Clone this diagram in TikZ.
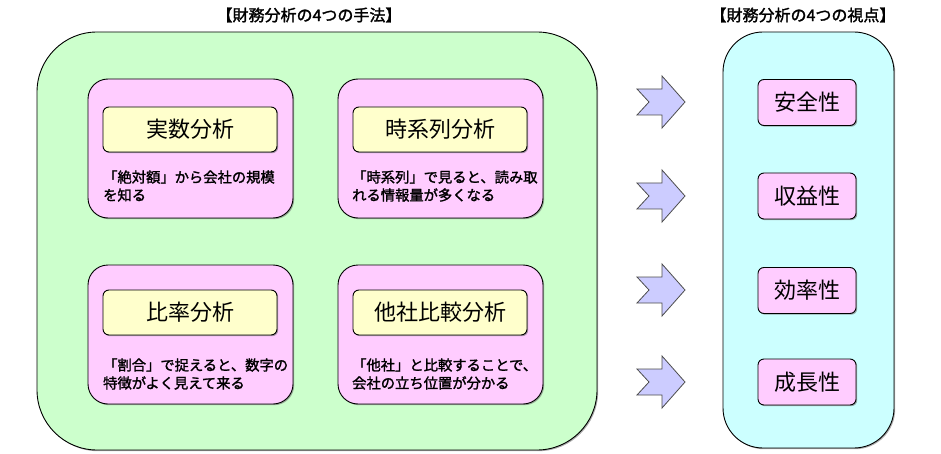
\documentclass[tikz,border=0pt]{standalone}
\usepackage{fontspec}
\setmainfont{Noto Sans CJK JP}
\newfontfamily\boldish[FakeBold=1.6]{Noto Sans CJK JP}
\usetikzlibrary{shadows}
\definecolor{panelgreen}{HTML}{CCFFCC}
\definecolor{panelcyan}{HTML}{CCFFFF}
\definecolor{cardpink}{HTML}{FFCCFF}
\definecolor{labelyellow}{HTML}{FFFFCC}
\definecolor{arrowblue}{HTML}{CCCCFF}
\tikzset{
  shade/.style={drop shadow={shadow xshift=1.2pt, shadow yshift=-1.2pt, fill=black!55, opacity=0.6}},
  panel/.style={draw=black, line width=0.9pt, rounded corners=#1, shade, inner sep=0pt},
  card/.style={draw=black, line width=0.9pt, fill=cardpink, rounded corners=20pt, shade,
    minimum width=205pt, minimum height=139pt, inner sep=0pt},
  labelbox/.style={draw=black, line width=0.9pt, fill=labelyellow, rounded corners=6pt, shade,
    minimum width=174pt, minimum height=45pt, inner sep=0pt, font=\fontsize{22}{24}\selectfont},
  viewbox/.style={draw=black, line width=0.9pt, fill=cardpink, rounded corners=6pt, shade,
    minimum width=98pt, minimum height=46pt, inner sep=0pt, font=\fontsize{22}{24}\selectfont},
  desc/.style={anchor=west, align=left, inner sep=0pt, font=\boldish\fontsize{14.3}{18}\selectfont},
  heading/.style={inner sep=0pt, font=\boldish\fontsize{16}{18}\selectfont},
  blockarrow/.style={draw=black!70, line width=0.8pt, fill=arrowblue, line join=miter},
}
\begin{document}
\begin{tikzpicture}[x=1pt, y=-1pt]
\useasboundingbox (0,0) rectangle (941,454);

% headings
\node[heading] (h1) at (309,15) {【財務分析の4つの手法】};
\node[heading] (h2) at (803,15) {【財務分析の4つの視点】};

% left panel
\node[panel=60pt, fill=panelgreen, minimum width=560pt, minimum height=418pt] (left) at (317,241) {};

% cards
\node[card] (c1) at (190.5,148.5) {};
\node[card] (c2) at (440.5,148.5) {};
\node[card] (c3) at (190.5,334.5) {};
\node[card] (c4) at (440.5,334.5) {};

\node[labelbox] (l1) at (190,129.5) {実数分析};
\node[labelbox] (l2) at (440,129.5) {時系列分析};
\node[labelbox] (l3) at (190,312.5) {比率分析};
\node[labelbox] (l4) at (440,312.5) {他社比較分析};

\node[desc] (d1) at (103,186) {「絶対額」から会社の規模\\を知る};
\node[desc] (d2) at (352,186) {「時系列」で見ると、読み取\\れる情報量が多くなる};
\node[desc] (d3) at (103,374) {「割合」で捉えると、数字の\\特徴がよく見えて来る};
\node[desc] (d4) at (352,374) {「他社」と比較することで、\\会社の立ち位置が分かる};

% block arrows
\foreach \yy/\nm in {102/a1,196/a2,290/a3,382/a4}{
  \draw[blockarrow, shift={(637,\yy)}] (0,-13) -- (12,0) -- (0,13) -- (25,13) -- (25,26)
    -- (48,0) -- (25,-26) -- (25,-13) -- cycle;
}

% right panel
\node[panel=40pt, fill=panelcyan, minimum width=171pt, minimum height=416pt] (right) at (808.5,240) {};
\node[viewbox] (v1) at (807,102.5) {安全性};
\node[viewbox] (v2) at (807,196) {収益性};
\node[viewbox] (v3) at (807,290.5) {効率性};
\node[viewbox] (v4) at (807,382) {成長性};
\end{tikzpicture}
\end{document}
